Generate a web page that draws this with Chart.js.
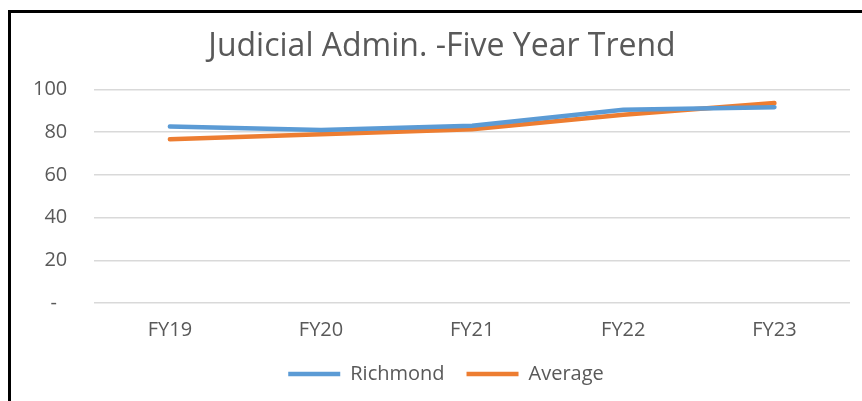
<!DOCTYPE html>
<html>
<head>
<meta charset="utf-8">
<title>Judicial Admin. - Five Year Trend</title>
<script src="https://cdn.jsdelivr.net/npm/chart.js@4"></script>
<style>
  html, body { margin: 0; padding: 0; background: #fff; overflow: hidden; }
  #wrap { position: relative; width: 862px; height: 401px; }
  #frame {
    position: absolute; left: 8px; top: 10px; right: -10px; bottom: -10px;
    border-left: 3px solid #000; border-top: 3px solid #000;
    pointer-events: none;
  }
</style>
</head>
<body>
<div id="wrap">
  <canvas id="trendChart" width="862" height="401"></canvas>
  <div id="frame"></div>
</div>
<script>
const years = ['FY19', 'FY20', 'FY21', 'FY22', 'FY23'];
const richmond = [82.6, 81.0, 83.0, 90.5, 91.7];
const average = [76.7, 79.0, 81.3, 88.1, 93.6];

const textColor = '#595959';
const fontFamily = '"Open Sans", sans-serif';

// the original chart is cropped on the right, so title and legend sit right of centre
const shiftBlocks = {
    id: 'shiftBlocks',
    afterLayout(chart) {
        if (chart.titleBlock) {
            chart.titleBlock.left += 14;
            chart.titleBlock.right += 14;
        }
        if (chart.legend) {
            chart.legend.left += 18;
            chart.legend.right += 18;
        }
    }
};

const ctx = document.getElementById('trendChart').getContext('2d');
new Chart(ctx, {
    type: 'line',
    data: {
        labels: years,
        datasets: [{
            label: 'Richmond',
            data: richmond,
            borderColor: '#5B9BD5',
            backgroundColor: '#5B9BD5',
            borderWidth: 4.5,
            borderCapStyle: 'round',
            pointRadius: 0,
            tension: 0
        }, {
            label: 'Average',
            data: average,
            borderColor: '#ED7D31',
            backgroundColor: '#ED7D31',
            borderWidth: 4.5,
            borderCapStyle: 'round',
            pointRadius: 0,
            tension: 0
        }]
    },
    plugins: [shiftBlocks],
    options: {
        responsive: false,
        animation: false,
        layout: {
            padding: { left: 6, right: 12, top: 28, bottom: 7 }
        },
        plugins: {
            title: {
                display: true,
                text: 'Judicial Admin. -Five Year Trend',
                color: textColor,
                font: { family: fontFamily, size: 32, weight: 'normal' },
                padding: { top: 0, bottom: 23 }
            },
            legend: {
                position: 'bottom',
                labels: {
                    color: textColor,
                    font: { family: fontFamily, size: 20 },
                    usePointStyle: true,
                    pointStyle: 'line',
                    pointStyleWidth: 52,
                    padding: 22
                }
            },
            tooltip: { enabled: false }
        },
        scales: {
            x: {
                offset: true,
                grid: { display: false, drawTicks: false },
                border: { display: false },
                ticks: {
                    color: textColor,
                    font: { family: fontFamily, size: 20 },
                    padding: 15
                },
                afterFit(axis) {
                    axis.height -= 15;
                }
            },
            y: {
                min: 0,
                max: 100,
                grid: { color: '#d9d9d9', lineWidth: 1.5, drawTicks: false },
                border: { display: false },
                ticks: {
                    stepSize: 20,
                    color: textColor,
                    font: { family: fontFamily, size: 20 },
                    padding: 27,
                    callback: value => value === 0 ? '-  ' : value
                }
            }
        }
    }
});
</script>
</body>
</html>
